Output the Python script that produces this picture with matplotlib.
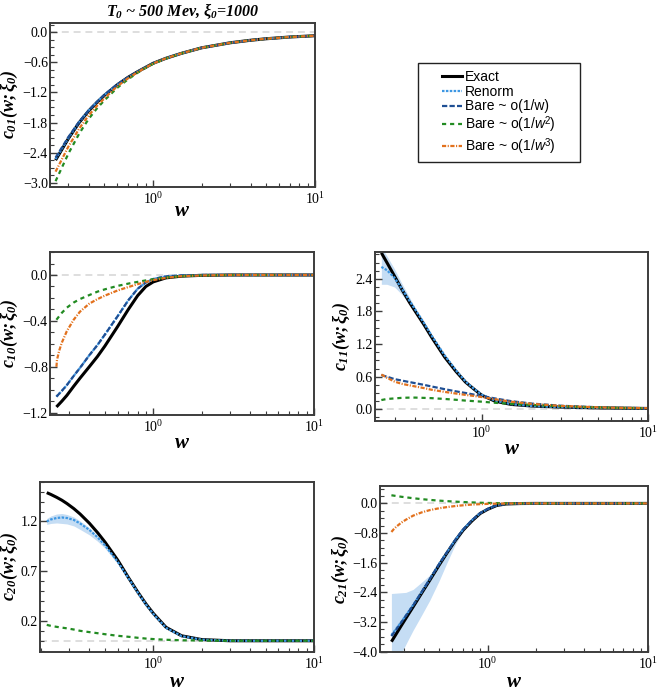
import numpy as np
import matplotlib
matplotlib.use("Agg")
import matplotlib.pyplot as plt
from matplotlib.lines import Line2D
from matplotlib.patches import Rectangle
from matplotlib.ticker import FixedLocator, AutoMinorLocator, LogLocator, NullFormatter, FuncFormatter

plt.rcParams["font.family"] = ["Liberation Serif", "DejaVu Serif"]
plt.rcParams["mathtext.fontset"] = "custom"
plt.rcParams["mathtext.rm"] = "Liberation Serif:bold:italic"
plt.rcParams["mathtext.it"] = "Liberation Serif:bold:italic"
plt.rcParams["mathtext.bf"] = "Liberation Serif:bold:italic"
plt.rcParams["mathtext.sf"] = "Liberation Sans:italic"
plt.rcParams["lines.scale_dashes"] = False
plt.rcParams["axes.unicode_minus"] = True

# ---- c01 ----
w_c01 = [0.25, 0.3, 0.35, 0.4, 0.45, 0.5, 0.6, 0.7, 0.8, 0.9, 1.0, 1.2, 1.5, 2, 3, 4, 5, 7, 10]
exact_c01 = [-2.55, -2.12, -1.80, -1.57, -1.40, -1.26, -1.05, -0.90, -0.79, -0.70, -0.62, -0.52, -0.42, -0.31, -0.21, -0.16, -0.13, -0.095, -0.07]
renorm_c01 = [-2.53, -2.11, -1.79, -1.56, -1.39, -1.25, -1.05, -0.90, -0.79, -0.70, -0.62, -0.52, -0.42, -0.31, -0.21, -0.16, -0.13, -0.095, -0.07]
bare1_c01 = [-2.50, -2.09, -1.78, -1.56, -1.39, -1.25, -1.04, -0.90, -0.79, -0.70, -0.62, -0.52, -0.42, -0.31, -0.21, -0.16, -0.13, -0.095, -0.07]
bare2_c01 = [-2.97, -2.42, -2.02, -1.73, -1.52, -1.36, -1.11, -0.94, -0.81, -0.71, -0.63, -0.525, -0.42, -0.31, -0.21, -0.16, -0.13, -0.095, -0.07]
bare3_c01 = [-2.78, -2.28, -1.92, -1.66, -1.47, -1.32, -1.08, -0.92, -0.80, -0.705, -0.625, -0.52, -0.42, -0.31, -0.21, -0.16, -0.13, -0.095, -0.07]

# ---- c10 ----
w_c10 = [0.25, 0.27, 0.29, 0.32, 0.35, 0.4, 0.45, 0.5, 0.6, 0.7, 0.8, 0.9, 1.0, 1.2, 1.5, 2, 3, 10]
exact_c10 = [-1.15, -1.10, -1.05, -0.97, -0.90, -0.80, -0.71, -0.62, -0.45, -0.30, -0.18, -0.10, -0.06, -0.025, -0.01, -0.003, 0.0, 0.0]
renorm_c10 = [-1.06, -1.01, -0.96, -0.88, -0.81, -0.70, -0.61, -0.52, -0.36, -0.22, -0.12, -0.065, -0.035, -0.012, -0.004, 0.0, 0.0, 0.0]
bare1_c10 = [-1.06, -1.01, -0.96, -0.88, -0.81, -0.70, -0.61, -0.52, -0.36, -0.22, -0.12, -0.065, -0.035, -0.012, -0.004, 0.0, 0.0, 0.0]
bare2_c10 = [-0.39, -0.33, -0.285, -0.24, -0.21, -0.175, -0.145, -0.125, -0.095, -0.075, -0.06, -0.047, -0.037, -0.022, -0.01, -0.004, 0.0, 0.0]
w3_c10 = [0.25, 0.252, 0.26, 0.27, 0.29, 0.32, 0.35, 0.4, 0.45, 0.5, 0.6, 0.7, 0.8, 0.9, 1.0, 1.2, 1.5, 2, 3, 10]
bare3_c10 = [-0.80, -0.74, -0.66, -0.59, -0.49, -0.39, -0.32, -0.25, -0.21, -0.18, -0.135, -0.105, -0.08, -0.06, -0.045, -0.025, -0.01, -0.004, 0.0, 0.0]

# ---- c11 ----
w_c11 = [0.25, 0.27, 0.3, 0.33, 0.37, 0.4, 0.45, 0.5, 0.6, 0.7, 0.8, 0.9, 1.0, 1.2, 1.5, 2, 3, 5, 7, 10]
exact_c11 = [2.88, 2.70, 2.45, 2.22, 1.96, 1.80, 1.56, 1.33, 0.96, 0.70, 0.50, 0.37, 0.26, 0.15, 0.09, 0.06, 0.04, 0.025, 0.02, 0.015]
renorm_c11 = [2.62, 2.56, 2.42, 2.23, 1.99, 1.83, 1.59, 1.36, 0.99, 0.72, 0.51, 0.375, 0.27, 0.16, 0.095, 0.06, 0.04, 0.025, 0.02, 0.015]
band_lo_c11 = [2.30, 2.30, 2.25, 2.12, 1.93, 1.79, 1.57, 1.35, 0.985, 0.715, 0.505, 0.37, 0.265, 0.155, 0.09, 0.055, 0.035, 0.02, 0.015, 0.01]
band_hi_c11 = [2.98, 2.82, 2.58, 2.33, 2.05, 1.87, 1.61, 1.37, 0.995, 0.725, 0.515, 0.38, 0.275, 0.165, 0.10, 0.065, 0.045, 0.03, 0.025, 0.02]
bare1_c11 = [0.63, 0.60, 0.555, 0.53, 0.50, 0.48, 0.45, 0.42, 0.37, 0.33, 0.30, 0.27, 0.245, 0.20, 0.15, 0.105, 0.065, 0.037, 0.027, 0.02]
bare2_c11 = [0.17, 0.19, 0.20, 0.21, 0.215, 0.215, 0.21, 0.205, 0.19, 0.175, 0.16, 0.15, 0.14, 0.12, 0.10, 0.08, 0.055, 0.033, 0.025, 0.02]
w3_c11 = [0.25, 0.26, 0.27, 0.3, 0.33, 0.37, 0.4, 0.45, 0.5, 0.6, 0.7, 0.8, 0.9, 1.0, 1.2, 1.5, 2, 3, 5, 7, 10]
bare3_c11 = [0.64, 0.61, 0.58, 0.51, 0.47, 0.44, 0.42, 0.39, 0.36, 0.32, 0.29, 0.265, 0.245, 0.225, 0.185, 0.14, 0.10, 0.062, 0.036, 0.026, 0.02]

# ---- c20 ----
w_c20 = [0.217, 0.23, 0.25, 0.27, 0.29, 0.32, 0.35, 0.4, 0.45, 0.5, 0.6, 0.7, 0.8, 0.9, 1.0, 1.2, 1.5, 2, 3, 10]
exact_c20 = [1.49, 1.472, 1.443, 1.413, 1.38, 1.329, 1.275, 1.182, 1.087, 0.993, 0.811, 0.635, 0.49, 0.37, 0.275, 0.135, 0.05, 0.012, 0.0, 0.0]
renorm_c20 = [1.20, 1.22, 1.235, 1.24, 1.235, 1.215, 1.18, 1.115, 1.04, 0.96, 0.795, 0.63, 0.485, 0.365, 0.27, 0.13, 0.047, 0.011, 0.0, 0.0]
band_lo_c20 = [1.17, 1.18, 1.185, 1.18, 1.175, 1.155, 1.12, 1.065, 1.00, 0.93, 0.775, 0.62, 0.48, 0.36, 0.265, 0.125, 0.045, 0.01, 0.0, 0.0]
band_hi_c20 = [1.23, 1.255, 1.275, 1.28, 1.27, 1.245, 1.205, 1.135, 1.055, 0.97, 0.805, 0.635, 0.49, 0.37, 0.275, 0.135, 0.049, 0.012, 0.0, 0.0]
bare2_c20 = [0.16, 0.15, 0.14, 0.132, 0.125, 0.113, 0.10, 0.087, 0.076, 0.066, 0.05, 0.04, 0.03, 0.022, 0.017, 0.01, 0.005, 0.002, 0.0, 0.0]

# ---- c21 ----
w_c21 = [0.252, 0.27, 0.29, 0.31, 0.344, 0.39, 0.437, 0.5, 0.556, 0.63, 0.705, 0.8, 0.9, 1.0, 1.14, 1.3, 1.6, 2, 3, 10]
exact_c21 = [-3.73, -3.52, -3.30, -3.10, -2.79, -2.41, -2.07, -1.66, -1.35, -1.00, -0.72, -0.47, -0.27, -0.16, -0.055, -0.015, -0.003, 0.0, 0.0, 0.0]
renorm_c21 = [-3.55, -3.38, -3.20, -3.02, -2.74, -2.38, -2.04, -1.63, -1.33, -0.98, -0.70, -0.45, -0.26, -0.15, -0.05, -0.012, -0.002, 0.0, 0.0, 0.0]
bare1_c21 = [-3.58, -3.40, -3.21, -3.03, -2.75, -2.38, -2.04, -1.63, -1.33, -0.98, -0.70, -0.45, -0.26, -0.15, -0.05, -0.012, -0.002, 0.0, 0.0, 0.0]
band_lo_c21 = [-5.2, -4.6, -4.05, -3.80, -3.42, -3.00, -2.61, -2.08, -1.62, -1.10, -0.75, -0.47, -0.27, -0.155, -0.052, -0.013, -0.002, 0.0, 0.0, 0.0]
band_hi_c21 = [-2.43, -2.42, -2.41, -2.40, -2.32, -2.12, -1.93, -1.55, -1.30, -0.97, -0.69, -0.445, -0.255, -0.145, -0.048, -0.011, -0.002, 0.0, 0.0, 0.0]
bare2_c21 = [0.22, 0.20, 0.18, 0.165, 0.14, 0.115, 0.095, 0.075, 0.062, 0.048, 0.037, 0.027, 0.018, 0.013, 0.008, 0.004, 0.001, 0.0, 0.0, 0.0]
w3_c21 = [0.252, 0.26, 0.27, 0.29, 0.31, 0.344, 0.39, 0.437, 0.5, 0.556, 0.63, 0.705, 0.8, 0.9, 1.0, 1.14, 1.3, 1.6, 2, 3, 10]
bare3_c21 = [-0.77, -0.70, -0.63, -0.52, -0.44, -0.33, -0.24, -0.18, -0.13, -0.10, -0.07, -0.05, -0.03, -0.02, -0.012, -0.006, -0.003, 0.0, 0.0, 0.0, 0.0]

legend_labels = ["Exact", "Renorm", "Bare ~ o(1/w)",
                 r"Bare ~ o(1/$\mathsf{w}^{\mathregular{2}}$)",
                 r"Bare ~ o(1/$\mathsf{w}^{\mathregular{3}}$)"]

C_EXACT = "black"
C_RENORM = "#3d97e3"
C_BARE1 = "#1f4f94"
C_BARE2 = "#228b22"
C_BARE3 = "#e2711d"
C_BAND = "#c5ddf4"
FRAME = "#3c3c3c"

STYLE = {
    "exact": dict(color=C_EXACT, lw=2.2, ls="-"),
    "renorm": dict(color=C_RENORM, lw=1.6, dashes=(1.8, 1.0)),
    "bare1": dict(color=C_BARE1, lw=1.6, dashes=(3.8, 1.6)),
    "bare2": dict(color=C_BARE2, lw=1.6, dashes=(3.0, 2.8)),
    "bare3": dict(color=C_BARE3, lw=1.6, dashes=(3.0, 1.1, 0.8, 1.1)),
}

W, H = 664, 691
fig = plt.figure(figsize=(W / 100, H / 100), dpi=100)


def make_ax(left, top, right, bottom):
    ax = fig.add_axes([left / W, 1 - bottom / H, (right - left) / W, (bottom - top) / H])
    ax._px = (right - left, bottom - top)
    return ax


def style_ax(ax, xlo, ylim, yticks, ylabel, ylab_off, xlab_off, nminor=4):
    ax.set_xscale("log")
    ax.set_xlim(xlo, 10)
    ax.set_ylim(*ylim)
    ax.axhline(0, color="#d8d8d8", lw=1.2, dashes=(5, 3.5), zorder=0)
    ax.yaxis.set_major_locator(FixedLocator(yticks))
    ax.yaxis.set_minor_locator(AutoMinorLocator(nminor))
    ax.yaxis.set_major_formatter(FuncFormatter(lambda v, p: f"{v:.1f}".replace("-", "\u2212")))
    ax.xaxis.set_major_locator(LogLocator(base=10, numticks=10))
    ax.xaxis.set_minor_locator(LogLocator(base=10, subs=np.arange(2, 10), numticks=10))
    ax.xaxis.set_minor_formatter(NullFormatter())
    ax.xaxis.set_major_formatter(FuncFormatter(lambda v, p: r"$\mathregular{10^{%d}}$" % round(np.log10(v))))
    ax.tick_params(which="both", direction="in", color=FRAME, labelsize=10,
                   top=False, right=False)
    ax.tick_params(axis="y", which="both", pad=1.5)
    ax.tick_params(axis="x", which="both", pad=3)
    ax.tick_params(which="major", length=5, width=1.0)
    ax.tick_params(which="minor", length=3, width=0.8)
    for s in ax.spines.values():
        s.set_color(FRAME)
        s.set_linewidth(1.4)
    wpx, hpx = ax._px
    ax.set_xlabel(r"$w$", fontsize=15, va="baseline")
    ax.xaxis.set_label_coords(0.5, -xlab_off / hpx)
    ax.set_ylabel(ylabel, fontsize=13)
    ax.yaxis.set_label_coords(-ylab_off / wpx, 0.5)


def draw(ax, w, y, key, zorder=2):
    ax.plot(w, y, zorder=zorder, solid_capstyle="butt", **STYLE[key])


# top-left
ax = make_ax(50, 22.7, 315, 186.7)
draw(ax, w_c01, exact_c01, "exact")
draw(ax, w_c01, renorm_c01, "renorm")
draw(ax, w_c01, bare1_c01, "bare1")
draw(ax, w_c01, bare2_c01, "bare2")
draw(ax, w_c01, bare3_c01, "bare3")
style_ax(ax, 0.231, (-3.08, 0.19), [-3.0, -2.4, -1.8, -1.2, -0.6, 0.0],
         r"$c_{01}(w;\xi_0)$", 30, 29)
ax.set_title(r"$T_0$ ~ 500 Mev, $\xi_0$=1000", fontsize=11.5, fontweight="bold",
             fontstyle="italic", pad=5)

# middle-left
ax = make_ax(50, 251.7, 314, 415)
draw(ax, w_c10, exact_c10, "exact")
draw(ax, w_c10, renorm_c10, "renorm")
draw(ax, w_c10, bare1_c10, "bare1")
draw(ax, w_c10, bare2_c10, "bare2")
draw(ax, w3_c10, bare3_c10, "bare3")
style_ax(ax, 0.228, (-1.22, 0.203), [-1.2, -0.8, -0.4, 0.0],
         r"$c_{10}(w;\xi_0)$", 30, 33)

# middle-right
ax = make_ax(375, 251.7, 648.3, 420.7)
ax.fill_between(w_c11, band_lo_c11, band_hi_c11, color=C_BAND, lw=0, zorder=1)
draw(ax, w_c11, exact_c11, "exact")
draw(ax, w_c11, renorm_c11, "renorm")
draw(ax, w_c11, bare1_c11, "bare1")
draw(ax, w_c11, bare2_c11, "bare2")
draw(ax, w3_c11, bare3_c11, "bare3")
style_ax(ax, 0.229, (-0.21, 2.90), [0.0, 0.6, 1.2, 1.8, 2.4],
         r"$c_{11}(w;\xi_0)$", 23, 33)

# bottom-left
ax = make_ax(40, 481.7, 314, 651.7)
ax.fill_between(w_c20, band_lo_c20, band_hi_c20, color=C_BAND, lw=0, zorder=1)
draw(ax, w_c20, exact_c20, "exact")
draw(ax, w_c20, renorm_c20, "renorm")
draw(ax, w_c20, bare2_c20, "bare2")
style_ax(ax, 0.197, (-0.11, 1.60), [0.2, 0.7, 1.2],
         r"$c_{20}(w;\xi_0)$", 20, 35, nminor=5)

# bottom-right
ax = make_ax(380, 486, 648.3, 651.7)
ax.fill_between(w_c21, band_lo_c21, band_hi_c21, color=C_BAND, lw=0, zorder=1)
draw(ax, w_c21, exact_c21, "exact")
draw(ax, w_c21, renorm_c21, "renorm")
draw(ax, w_c21, bare1_c21, "bare1")
draw(ax, w_c21, bare2_c21, "bare2")
draw(ax, w3_c21, bare3_c21, "bare3")
style_ax(ax, 0.214, (-4.0, 0.47), [-4.0, -3.2, -2.4, -1.6, -0.8, 0.0],
         r"$c_{21}(w;\xi_0)$", 29, 35)

# legend: frame drawn separately to get the wide inner margins
fig.patches.append(Rectangle((418.3 / W, 1 - 161.7 / H), (580 - 418.3) / W, (161.7 - 62.7) / H,
                             transform=fig.transFigure, fill=False,
                             edgecolor="#222222", lw=1.0))
handles = [Line2D([], [], **STYLE[k]) for k in ["exact", "renorm", "bare1", "bare2", "bare3"]]
leg = fig.legend(handles, legend_labels, loc="upper left",
                 bbox_to_anchor=(441.7 / W, 1 - 70 / H),
                 prop={"family": "Liberation Sans", "size": 10},
                 frameon=False, handlelength=1.45, handletextpad=0.25,
                 labelspacing=0.05, borderpad=0, borderaxespad=0)

fig.savefig("out.png", dpi=100)
